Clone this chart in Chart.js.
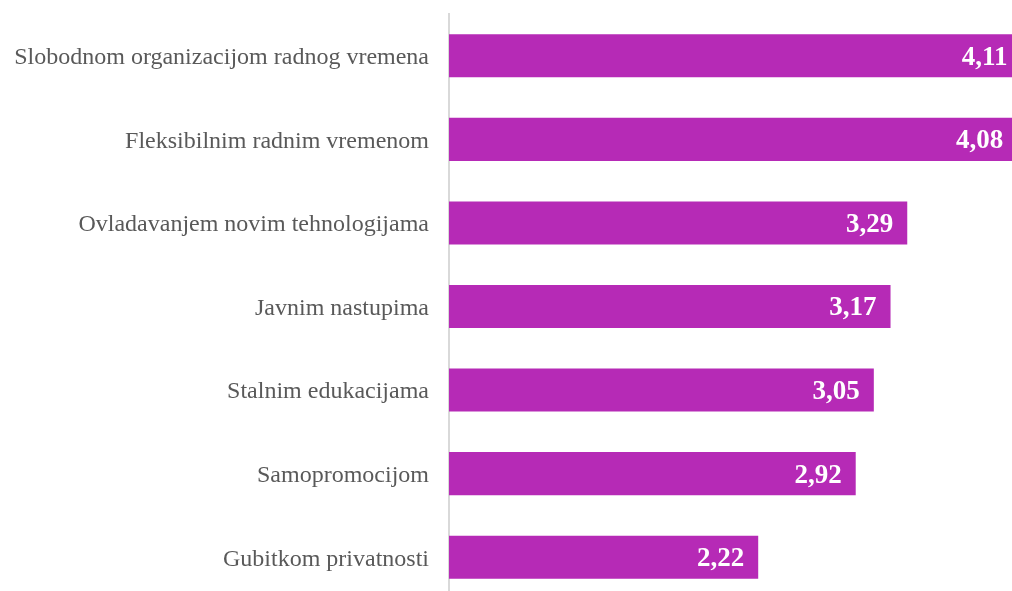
<!DOCTYPE html>
<html>
<head>
  <title>Bar chart</title>
  <style>
    html, body { margin: 0; padding: 0; background: #fff; overflow: hidden; }
    #wrap { width: 1034px; height: 599px; }
  </style>
  <script src="https://cdn.jsdelivr.net/npm/chart.js"></script>
</head>
<body>
  <div id="wrap"><canvas id="chart" width="1034" height="599"></canvas></div>
  <script>
    const categories = [
      'Slobodnom organizacijom radnog vremena',
      'Fleksibilnim radnim vremenom',
      'Ovladavanjem novim tehnologijama',
      'Javnim nastupima',
      'Stalnim edukacijama',
      'Samopromocijom',
      'Gubitkom privatnosti'
    ];
    const values = [4.11, 4.08, 3.29, 3.17, 3.05, 2.92, 2.22];
    const barColor = '#b62ab6';

    // value labels inside the bar end, comma decimal
    const valueLabels = {
      id: 'valueLabels',
      afterDatasetsDraw(chart) {
        const ctx = chart.ctx;
        const meta = chart.getDatasetMeta(0);
        ctx.save();
        ctx.font = 'bold 27px "Liberation Serif", serif';
        ctx.fillStyle = '#ffffff';
        ctx.textAlign = 'right';
        ctx.textBaseline = 'middle';
        meta.data.forEach((bar, i) => {
          ctx.fillText(values[i].toFixed(2).replace('.', ','), bar.x - 14, bar.y + 2);
        });
        ctx.restore();
      }
    };

    new Chart(document.getElementById('chart').getContext('2d'), {
      type: 'bar',
      data: {
        labels: categories,
        datasets: [{
          data: values,
          backgroundColor: barColor,
          borderWidth: 0,
          barPercentage: 0.515,
          categoryPercentage: 1
        }]
      },
      options: {
        indexAxis: 'y',
        responsive: false,
        animation: false,
        devicePixelRatio: 1,
        layout: { padding: { top: 14, bottom: 0, left: 0, right: 0 } },
        plugins: { legend: { display: false }, tooltip: { enabled: false } },
        scales: {
          x: { display: false, min: 0, max: 4.2 },
          y: {
            grid: { display: false, drawTicks: false },
            border: { display: true, color: '#d9d9d9', width: 2 },
            ticks: {
              color: '#595959',
              padding: 20,
              labelOffset: 2,
              font: { family: '"Liberation Serif", serif', size: 24 }
            },
            afterFit(scale) {
              scale.width = 449;
              scale.paddingTop = 0;
              scale.paddingBottom = 0;
            }
          }
        }
      },
      plugins: [valueLabels]
    });
  </script>
</body>
</html>
